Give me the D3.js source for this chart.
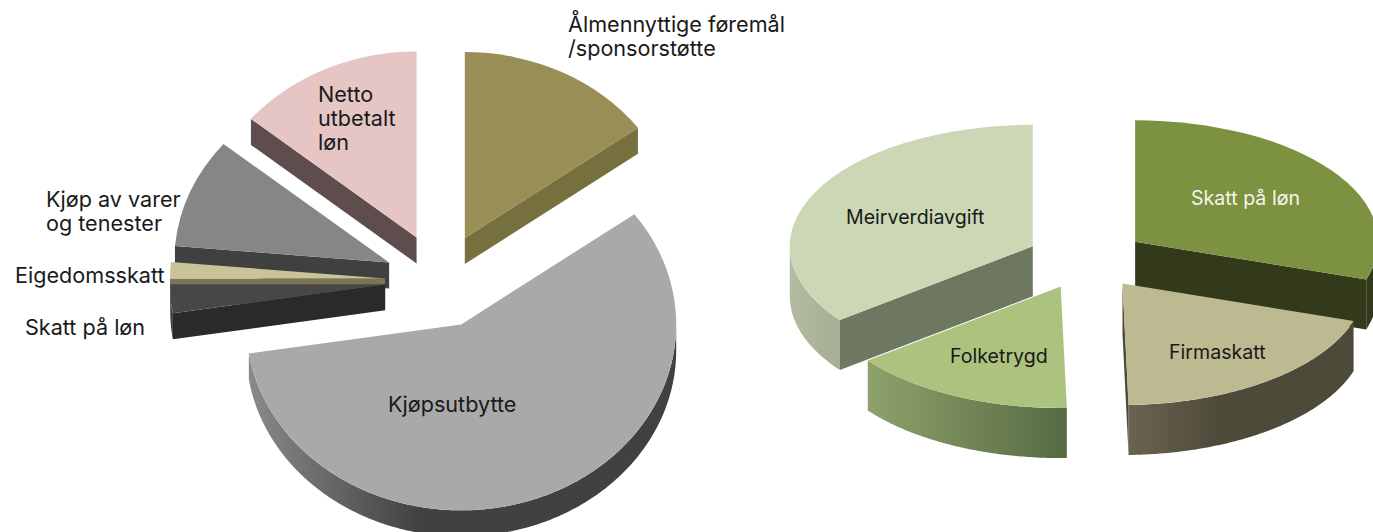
<!DOCTYPE html>
<html>
<head>
<meta charset="utf-8">
<script src="https://cdn.jsdelivr.net/npm/d3@7"></script>
<style>
html,body{margin:0;padding:0;background:#fff;overflow:hidden}
text{font-family:Inter,Lato,sans-serif;fill:#1a1a1a}
</style>
</head>
<body>
<div id="wrapper"></div>
<script>
// Data (percent of each pie)
const leftNames = ["Ålmennyttige føremål", "Kjøpsutbytte", "Skatt på løn", "Eigedomsskatt", "Kjøp av varer og tenester", "Netto utbetalt løn"];
const leftValues = [14.9, 57.6, 2.5, 1.4, 9.6, 14.0];
const rightNames = ["Skatt på løn", "Firmaskatt", "Folketrygd", "Meirverdiavgift"];
const rightValues = [30.0, 19.6, 15.0, 35.4];

// Styles
const leftTop = ["#9a8e57", "#a9a9a9", "#474747", "#c9c39a", "#868686", "#e6c5c5"];
const leftCut = ["#76703f", "#3f3f3f", "#2a2a2a", "#7b7553", "#404040", "#5f4c4c"];
const leftWall = [["#76703f", "#76703f"], ["#8a8a8a", "#414141"], ["#555", "#2a2a2a"], ["#7b7553", "#7b7553"], ["#404040", "#404040"], ["#5f4c4c", "#5f4c4c"]];
const leftWallStop = ["100%", "40%", "100%", "100%", "100%", "100%"];
const rightTop = ["#7c9241", "#bdb991", "#abc37e", "#cbd7b5"];
const rightCut = ["#33391b", "#4e4a3a", "#566a43", "#6e7860"];
const rightWall = [["#33391b", "#33391b"], ["#6a6350", "#4e4a3a"], ["#8fa26b", "#566a43"], ["#b3bca2", "#a4ae92"]];
const rightWallStop = ["100%", "40%", "100%", "100%"];

// Layout
const dimension = {width: 1373, height: 532};
const leftPie = {id: "left", names: leftNames, values: leftValues, top: leftTop, cut: leftCut, wall: leftWall, wallStop: leftWallStop,
    cx: 440, cy: 280.5, rx: 215, ratio: 0.865, explode: 55, depth: 26, order: [5, 0, 4, 3, 2, 1]};
const rightPie = {id: "right", names: rightNames, values: rightValues, top: rightTop, cut: rightCut, wall: rightWall, wallStop: rightWallStop,
    cx: 1086.6, cy: 259.5, rx: 243, ratio: 0.5, explode: 60, depth: 50, order: [3, 0, 2, 1]};

// Labels: [lines, x, first baseline, size, colour]
const labels = [
    [["Ålmennyttige føremål", "/sponsorstøtte"], 568, 32, 21.6, "#1a1a1a"],
    [["Netto", "utbetalt", "løn"], 318, 102, 21.6, "#1a1a1a"],
    [["Kjøp av varer", "og tenester"], 46, 207, 21.6, "#1a1a1a"],
    [["Eigedomsskatt"], 15, 283, 21.6, "#1a1a1a"],
    [["Skatt på løn"], 25, 335, 21.6, "#1a1a1a"],
    [["Kjøpsutbytte"], 388, 412, 21.6, "#1a1a1a"],
    [["Meirverdiavgift"], 846, 224, 19.6, "#1a1a1a"],
    [["Skatt på løn"], 1191, 205, 19.6, "#f4f6ea"],
    [["Folketrygd"], 950, 363, 19.6, "#1a1a1a"],
    [["Firmaskatt"], 1169, 359, 19.6, "#1a1a1a"],
];

const wrapper = d3.select("#wrapper").append("svg")
    .attr("width", dimension.width).attr("height", dimension.height);
const defs = wrapper.append("defs");
const lineGen = d3.line();

function drawPie(p) {
    const arcs = d3.pie().sort(null)(p.values);
    const ry = p.rx * p.ratio;
    const arcGen = d3.arc().innerRadius(0).outerRadius(p.rx);
    const bounded = wrapper.append("g");

    p.order.forEach(i => {
        const a = arcs[i];
        const mid = (a.startAngle + a.endAngle) / 2;
        // exploded apex of this slice
        const ax = p.cx + p.explode * Math.sin(mid);
        const ay = p.cy - p.explode * p.ratio * Math.cos(mid);
        const rim = t => [ax + p.rx * Math.sin(t), ay - ry * Math.cos(t)];
        const down = q => [q[0], q[1] + p.depth];
        const g = bounded.append("g");

        // outer wall, only the near half of the rim shows
        const from = Math.max(a.startAngle, Math.PI / 2);
        const to = Math.min(a.endAngle, Math.PI * 3 / 2);
        if (to > from) {
            const steps = d3.range(from, to, 0.01).concat(to).map(rim);
            const gradId = `wall-${p.id}-${i}`;
            const xs = d3.extent(steps, d => d[0]);
            const grad = defs.append("linearGradient").attr("id", gradId)
                .attr("gradientUnits", "userSpaceOnUse")
                .attr("x1", xs[0]).attr("x2", xs[1]).attr("y1", 0).attr("y2", 0);
            grad.append("stop").attr("offset", "0%").attr("stop-color", p.wall[i][0]);
            grad.append("stop").attr("offset", p.wallStop[i]).attr("stop-color", p.wall[i][1]);
            g.append("path")
                .attr("d", lineGen(steps.concat(steps.map(down).reverse())) + "Z")
                .attr("fill", `url(#${gradId})`);
        }

        // cut faces that turn towards the viewer
        const apex = [ax, ay];
        [[a.startAngle, Math.sin(a.startAngle) < 0], [a.endAngle, Math.sin(a.endAngle) > 0]].forEach(([t, show]) => {
            if (!show) return;
            const q = rim(t);
            g.append("path")
                .attr("d", lineGen([apex, q, down(q), down(apex)]) + "Z")
                .attr("fill", p.cut[i]);
        });

        // top face
        g.append("path")
            .attr("d", arcGen(a))
            .attr("transform", `translate(${ax},${ay}) scale(1,${p.ratio})`)
            .attr("fill", p.top[i]);
    });
}

[leftPie, rightPie].forEach(drawPie);

const labelGroup = wrapper.append("g");
labels.forEach(([lines, x, y, size, colour]) => {
    lines.forEach((line, k) => {
        labelGroup.append("text")
            .attr("x", x).attr("y", y + k * 24)
            .attr("font-size", size + "px")
            .style("fill", colour)
            .text(line);
    });
});
</script>
</body>
</html>
